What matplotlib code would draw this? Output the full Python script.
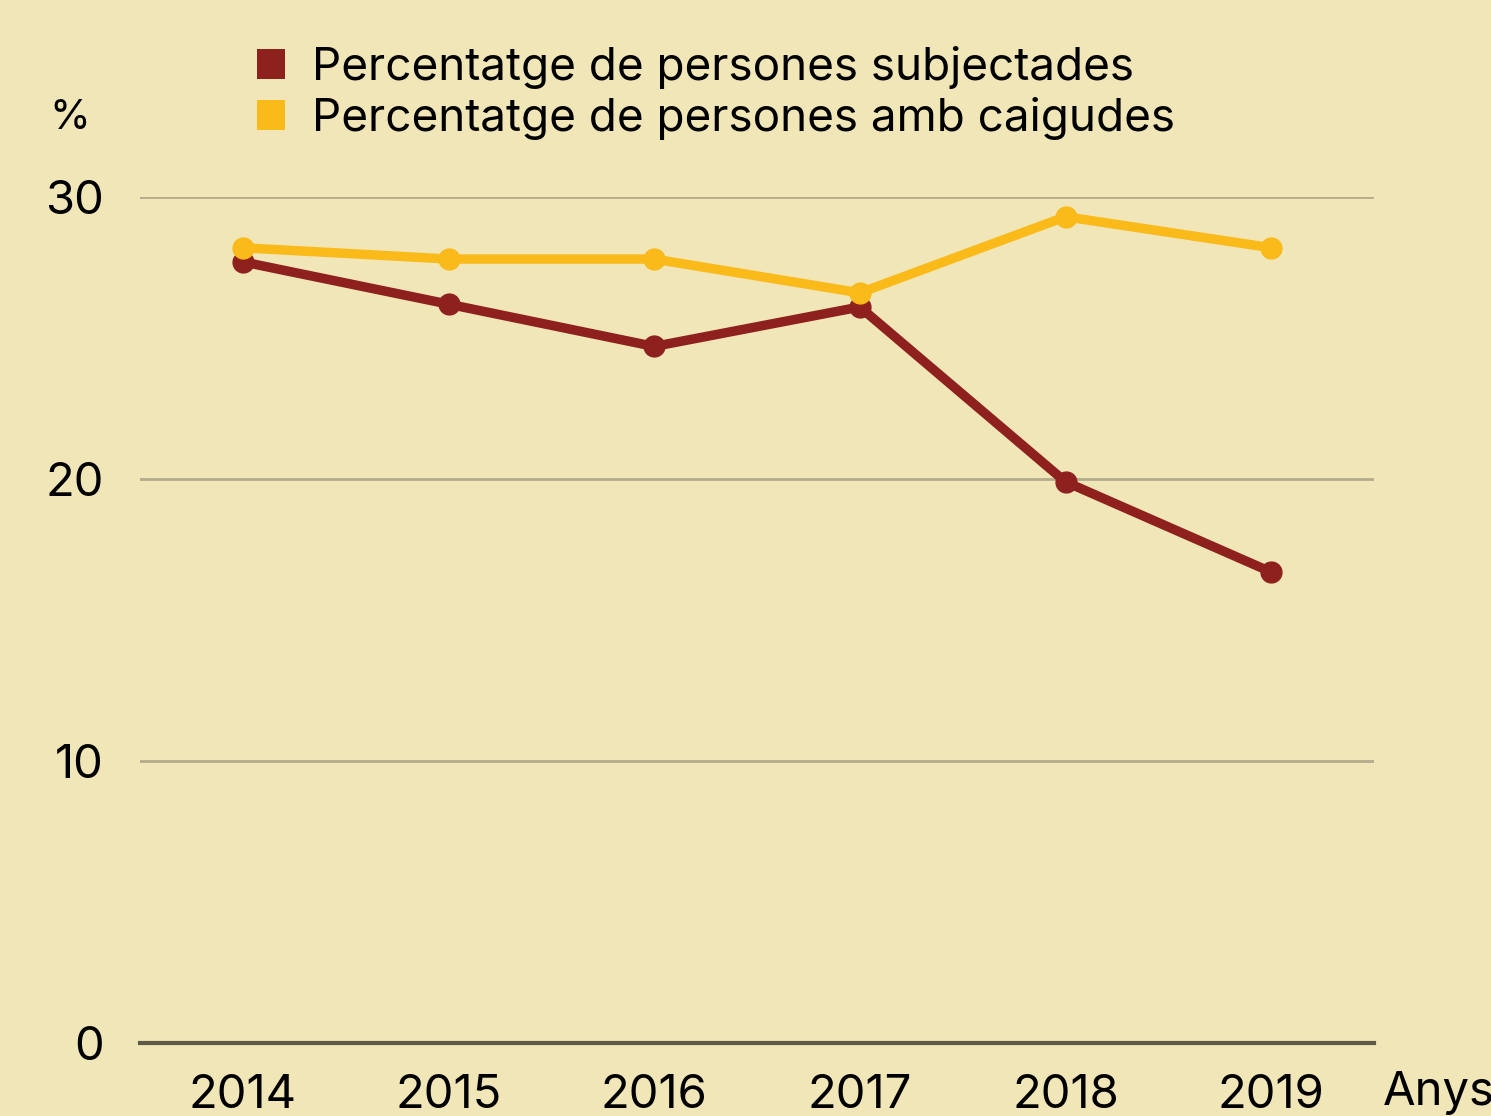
import matplotlib
matplotlib.use("Agg")
import matplotlib.pyplot as plt
from matplotlib.patches import Patch

years = [2014, 2015, 2016, 2017, 2018, 2019]
subjectades = [27.7, 26.2, 24.7, 26.1, 19.9, 16.7]
caigudes = [28.2, 27.8, 27.8, 26.6, 29.3, 28.2]
yticks = [0, 10, 20, 30]
labels = ["Percentatge de persones subjectades", "Percentatge de persones amb caigudes"]

BG = "#F1E6B8"
RED = "#8E201E"
YEL = "#F9BA1A"

plt.rcParams['font.family'] = ['Inter', 'DejaVu Sans']

fig = plt.figure(figsize=(14.91, 11.16), dpi=100, facecolor=BG)
ax = fig.add_axes([140/1491, 1 - 1043/1116, (1374-140)/1491, (1043-197)/1116])
ax.set_facecolor(BG)

ax.plot(years, subjectades, color=RED, lw=6.8, marker='o', ms=15, clip_on=False, zorder=3)
ax.plot(years, caigudes, color=YEL, lw=6.8, marker='o', ms=15, clip_on=False, zorder=4)

ax.set_xlim(2013.5, 2019.5)
ax.set_ylim(0, 30)
ax.set_yticks(yticks)
ax.set_xticks(years)
ax.set_xticklabels([str(y) for y in years])
ax.tick_params(axis='both', length=0, labelsize=34, colors='black')
ax.tick_params(axis='y', pad=26)
ax.tick_params(axis='x', pad=22)
for s in ax.spines.values():
    s.set_visible(False)
for yv in yticks[1:]:
    ax.axhline(yv, color="#B3AB8A", lw=2, zorder=1)
ax.axhline(0, color="#5E5A48", lw=3, zorder=2, clip_on=False)

fig.text(70/1491, 1 - 118/1116, "%", fontsize=30, ha='center', va='center')
fig.text(1383/1491, 1 - 1093/1116, "Anys", fontsize=34, ha='left', va='center')

handles = [Patch(facecolor=RED, edgecolor='none'), Patch(facecolor=YEL, edgecolor='none')]
fig.legend(handles, labels, loc='upper left', bbox_to_anchor=(257/1491, 1 - 46/1116),
           frameon=False, fontsize=33, handlelength=0.62, handleheight=0.62,
           handletextpad=0.58, labelspacing=0.18, borderpad=0, borderaxespad=0)

fig.savefig("out.png", dpi=100, facecolor=BG)
